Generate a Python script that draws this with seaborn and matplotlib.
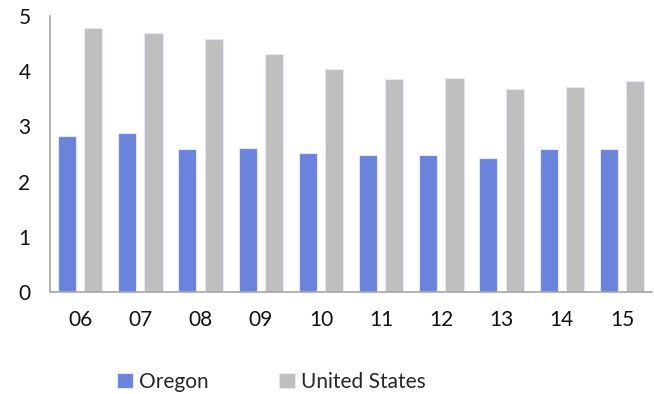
import numpy as np
import pandas as pd
import matplotlib.pyplot as plt
import seaborn as sns

years = ['06', '07', '08', '09', '10', '11', '12', '13', '14', '15']
oregon = [2.83, 2.88, 2.59, 2.61, 2.52, 2.48, 2.48, 2.42, 2.59, 2.59]
united_states = [4.78, 4.70, 4.58, 4.31, 4.04, 3.86, 3.87, 3.68, 3.71, 3.82]

df = pd.DataFrame({
    'year': years * 2,
    'value': oregon + united_states,
    'region': ['Oregon'] * len(years) + ['United States'] * len(years),
})

sns.set_style('white')
plt.rcParams['font.family'] = ['Lato', 'DejaVu Sans']

fig = plt.figure(figsize=(6.54, 3.94), dpi=100)
ax = fig.add_axes([0.0765, 0.259, 0.9205, 0.70])

sns.barplot(data=df, x='year', y='value', hue='region',
            palette=['#6A84DD', '#BFBFBF'], saturation=1,
            width=0.874, gap=0.31,
            edgecolor='#E4E8F5', linewidth=0.8, ax=ax)

ax.set_ylim(0, 5)
ax.set_xlim(-0.5, 9.5)
ax.set_yticks(range(6))
ax.set_xlabel('')
ax.set_ylabel('')
ax.tick_params(axis='both', length=0, labelsize=15, colors='#111111')
ax.tick_params(axis='x', pad=13)
ax.tick_params(axis='y', pad=14)
for s in ['top', 'right']:
    ax.spines[s].set_visible(False)
for s in ['left', 'bottom']:
    ax.spines[s].set_color('#A6A6A6')
    ax.spines[s].set_linewidth(1.2)

leg = ax.legend(loc='lower left', bbox_to_anchor=(0.08, -0.43), ncol=2,
                frameon=False, fontsize=15, handlelength=0.75, handleheight=0.75,
                handletextpad=0.3, columnspacing=3.4)

fig.savefig('out.png', dpi=100)
